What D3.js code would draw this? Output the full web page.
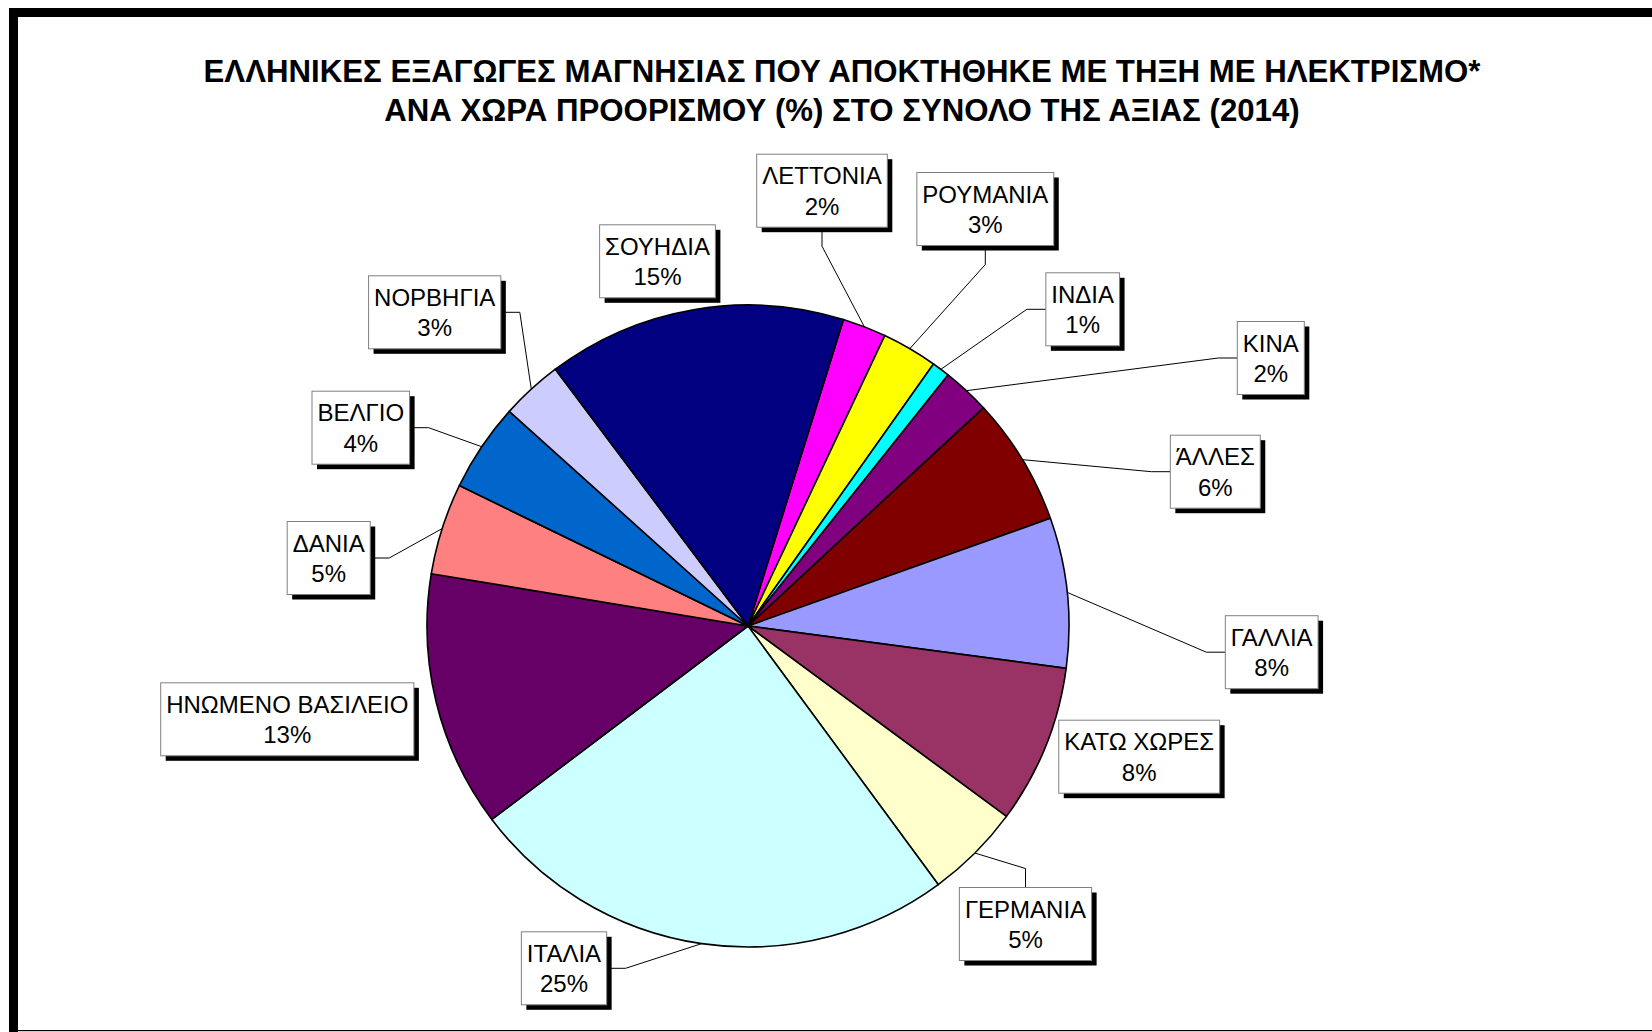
<!DOCTYPE html>
<html><head><meta charset="utf-8">
<script src="https://cdn.jsdelivr.net/npm/d3@7"></script>
<style>
body{margin:0;background:#fff;}
svg{display:block;font-family:"Liberation Sans",Arial,sans-serif;}
</style>
</head><body>
<svg id="c" width="1652" height="1032"></svg>
<script>
// ---- data ----
const titleLines = [
  "ΕΛΛΗΝΙΚΕΣ ΕΞΑΓΩΓΕΣ ΜΑΓΝΗΣΙΑΣ ΠΟΥ ΑΠΟΚΤΗΘΗΚΕ ΜΕ ΤΗΞΗ ΜΕ ΗΛΕΚΤΡΙΣΜΟ*",
  "ΑΝΑ ΧΩΡΑ ΠΡΟΟΡΙΣΜΟΥ (%) ΣΤΟ ΣΥΝΟΛΟ ΤΗΣ ΑΞΙΑΣ (2014)"
];
const countries = ["ΛΕΤΤΟΝΙΑ","ΡΟΥΜΑΝΙΑ","ΙΝΔΙΑ","ΚΙΝΑ","ΆΛΛΕΣ","ΓΑΛΛΙΑ","ΚΑΤΩ ΧΩΡΕΣ","ΓΕΡΜΑΝΙΑ","ΙΤΑΛΙΑ","ΗΝΩΜΕΝΟ ΒΑΣΙΛΕΙΟ","ΔΑΝΙΑ","ΒΕΛΓΙΟ","ΝΟΡΒΗΓΙΑ","ΣΟΥΗΔΙΑ"];
const shares = [2.2, 2.8, 0.9, 2.4, 6.45, 7.55, 8.0, 4.8, 24.8, 12.9, 4.6, 4.45, 3.1, 15.05];
const colors = ["#FF00FF","#FFFF00","#00FFFF","#800080","#800000","#9999FF","#993366","#FFFFCC","#CCFFFF","#660066","#FF8080","#0066CC","#CCCCFF","#000080"];

// ---- layout (label box centres and leader side) ----
const labelLayout = [
  [822, 190.7, "bottom"],
  [985.3, 209, "bottom"],
  [1082.7, 309.3, "left"],
  [1270.8, 358, "left"],
  [1215.3, 471.7, "left"],
  [1271.7, 652.2, "left"],
  [1139.2, 756.7, "none"],
  [1025.5, 924, "top"],
  [564, 968.3, "right"],
  [287.3, 719.3, "none"],
  [328.7, 558, "right"],
  [360.8, 427.7, "right"],
  [434.7, 312.3, "right"],
  [657.5, 261.3, "none"]
];

const W = 1652, H = 1032;
const cx = 748, cy = 626, R = 321;
const svg = d3.select("#c");

// frame
svg.append("rect").attr("x", 9).attr("y", 8).attr("width", W - 9).attr("height", 9).attr("fill", "#000");
svg.append("rect").attr("x", 9).attr("y", 8).attr("width", 9).attr("height", H - 8).attr("fill", "#000");
svg.append("rect").attr("x", 9).attr("y", 1030).attr("width", W - 9).attr("height", 1.2).attr("fill", "#000");

// title
svg.append("g").selectAll("text").data(titleLines).join("text")
  .attr("x", 842).attr("y", (d, i) => 82 + i * 39)
  .attr("text-anchor", "middle")
  .attr("font-size", 31.2).attr("font-weight", "bold").attr("fill", "#000")
  .text(d => d);

// pie
const data = countries.map((c, i) => ({name: c, value: shares[i], color: colors[i], layout: labelLayout[i]}));
const start = 17.3 * Math.PI / 180;
const pie = d3.pie().value(d => d.value).sort(null).startAngle(start).endAngle(start + 2 * Math.PI);
const arcs = pie(data);
const arc = d3.arc().innerRadius(0).outerRadius(R);
const rimArc = d3.arc().innerRadius(R).outerRadius(R);

const g = svg.append("g").attr("transform", `translate(${cx},${cy})`);
g.selectAll("path").data(arcs).join("path")
  .attr("d", arc)
  .attr("fill", d => d.data.color)
  .attr("stroke", "#000").attr("stroke-width", 1.6).attr("stroke-linejoin", "round");

// labels
const lab = svg.append("g");
const leaders = lab.append("g");
const boxes = lab.append("g");
const fs = 24, elbow = 19;

arcs.forEach(d => {
  const [bx, by, side] = d.data.layout;
  const pct = Math.round(d.data.value) + "%";
  const bgrp = boxes.append("g");
  const shadow = bgrp.append("rect").attr("fill", "#000");
  const box = bgrp.append("rect").attr("fill", "#fff").attr("stroke", "#808080").attr("stroke-width", 1);
  const t1 = bgrp.append("text").attr("x", bx).attr("y", by - 6.5).attr("text-anchor", "middle").attr("font-size", fs).attr("fill", "#000").text(d.data.name);
  const t2 = bgrp.append("text").attr("x", bx).attr("y", by + 23.8).attr("text-anchor", "middle").attr("font-size", fs).attr("fill", "#000").text(pct);
  const tw = Math.max(t1.node().getComputedTextLength(), t2.node().getComputedTextLength());
  const bw = tw + 11, bh = 73;
  const x0 = bx - bw / 2, y0 = by - bh / 2;
  box.attr("x", x0).attr("y", y0).attr("width", bw).attr("height", bh);
  shadow.attr("x", x0 + 5).attr("y", y0 + 5).attr("width", bw).attr("height", bh);

  if (side !== "none") {
    const rc = rimArc.centroid(d);
    const rim = [cx + rc[0], cy + rc[1]];
    let a, e;
    if (side === "left") { a = [x0, by]; e = [x0 - elbow, by]; }
    else if (side === "right") { a = [x0 + bw, by]; e = [x0 + bw + elbow, by]; }
    else if (side === "top") { a = [bx, y0]; e = [bx, y0 - elbow]; }
    else { a = [bx, y0 + bh]; e = [bx, y0 + bh + elbow]; }
    leaders.append("path")
      .attr("d", d3.line()([a, e, rim]))
      .attr("fill", "none").attr("stroke", "#000").attr("stroke-width", 1);
  }
});
</script>
</body></html>
